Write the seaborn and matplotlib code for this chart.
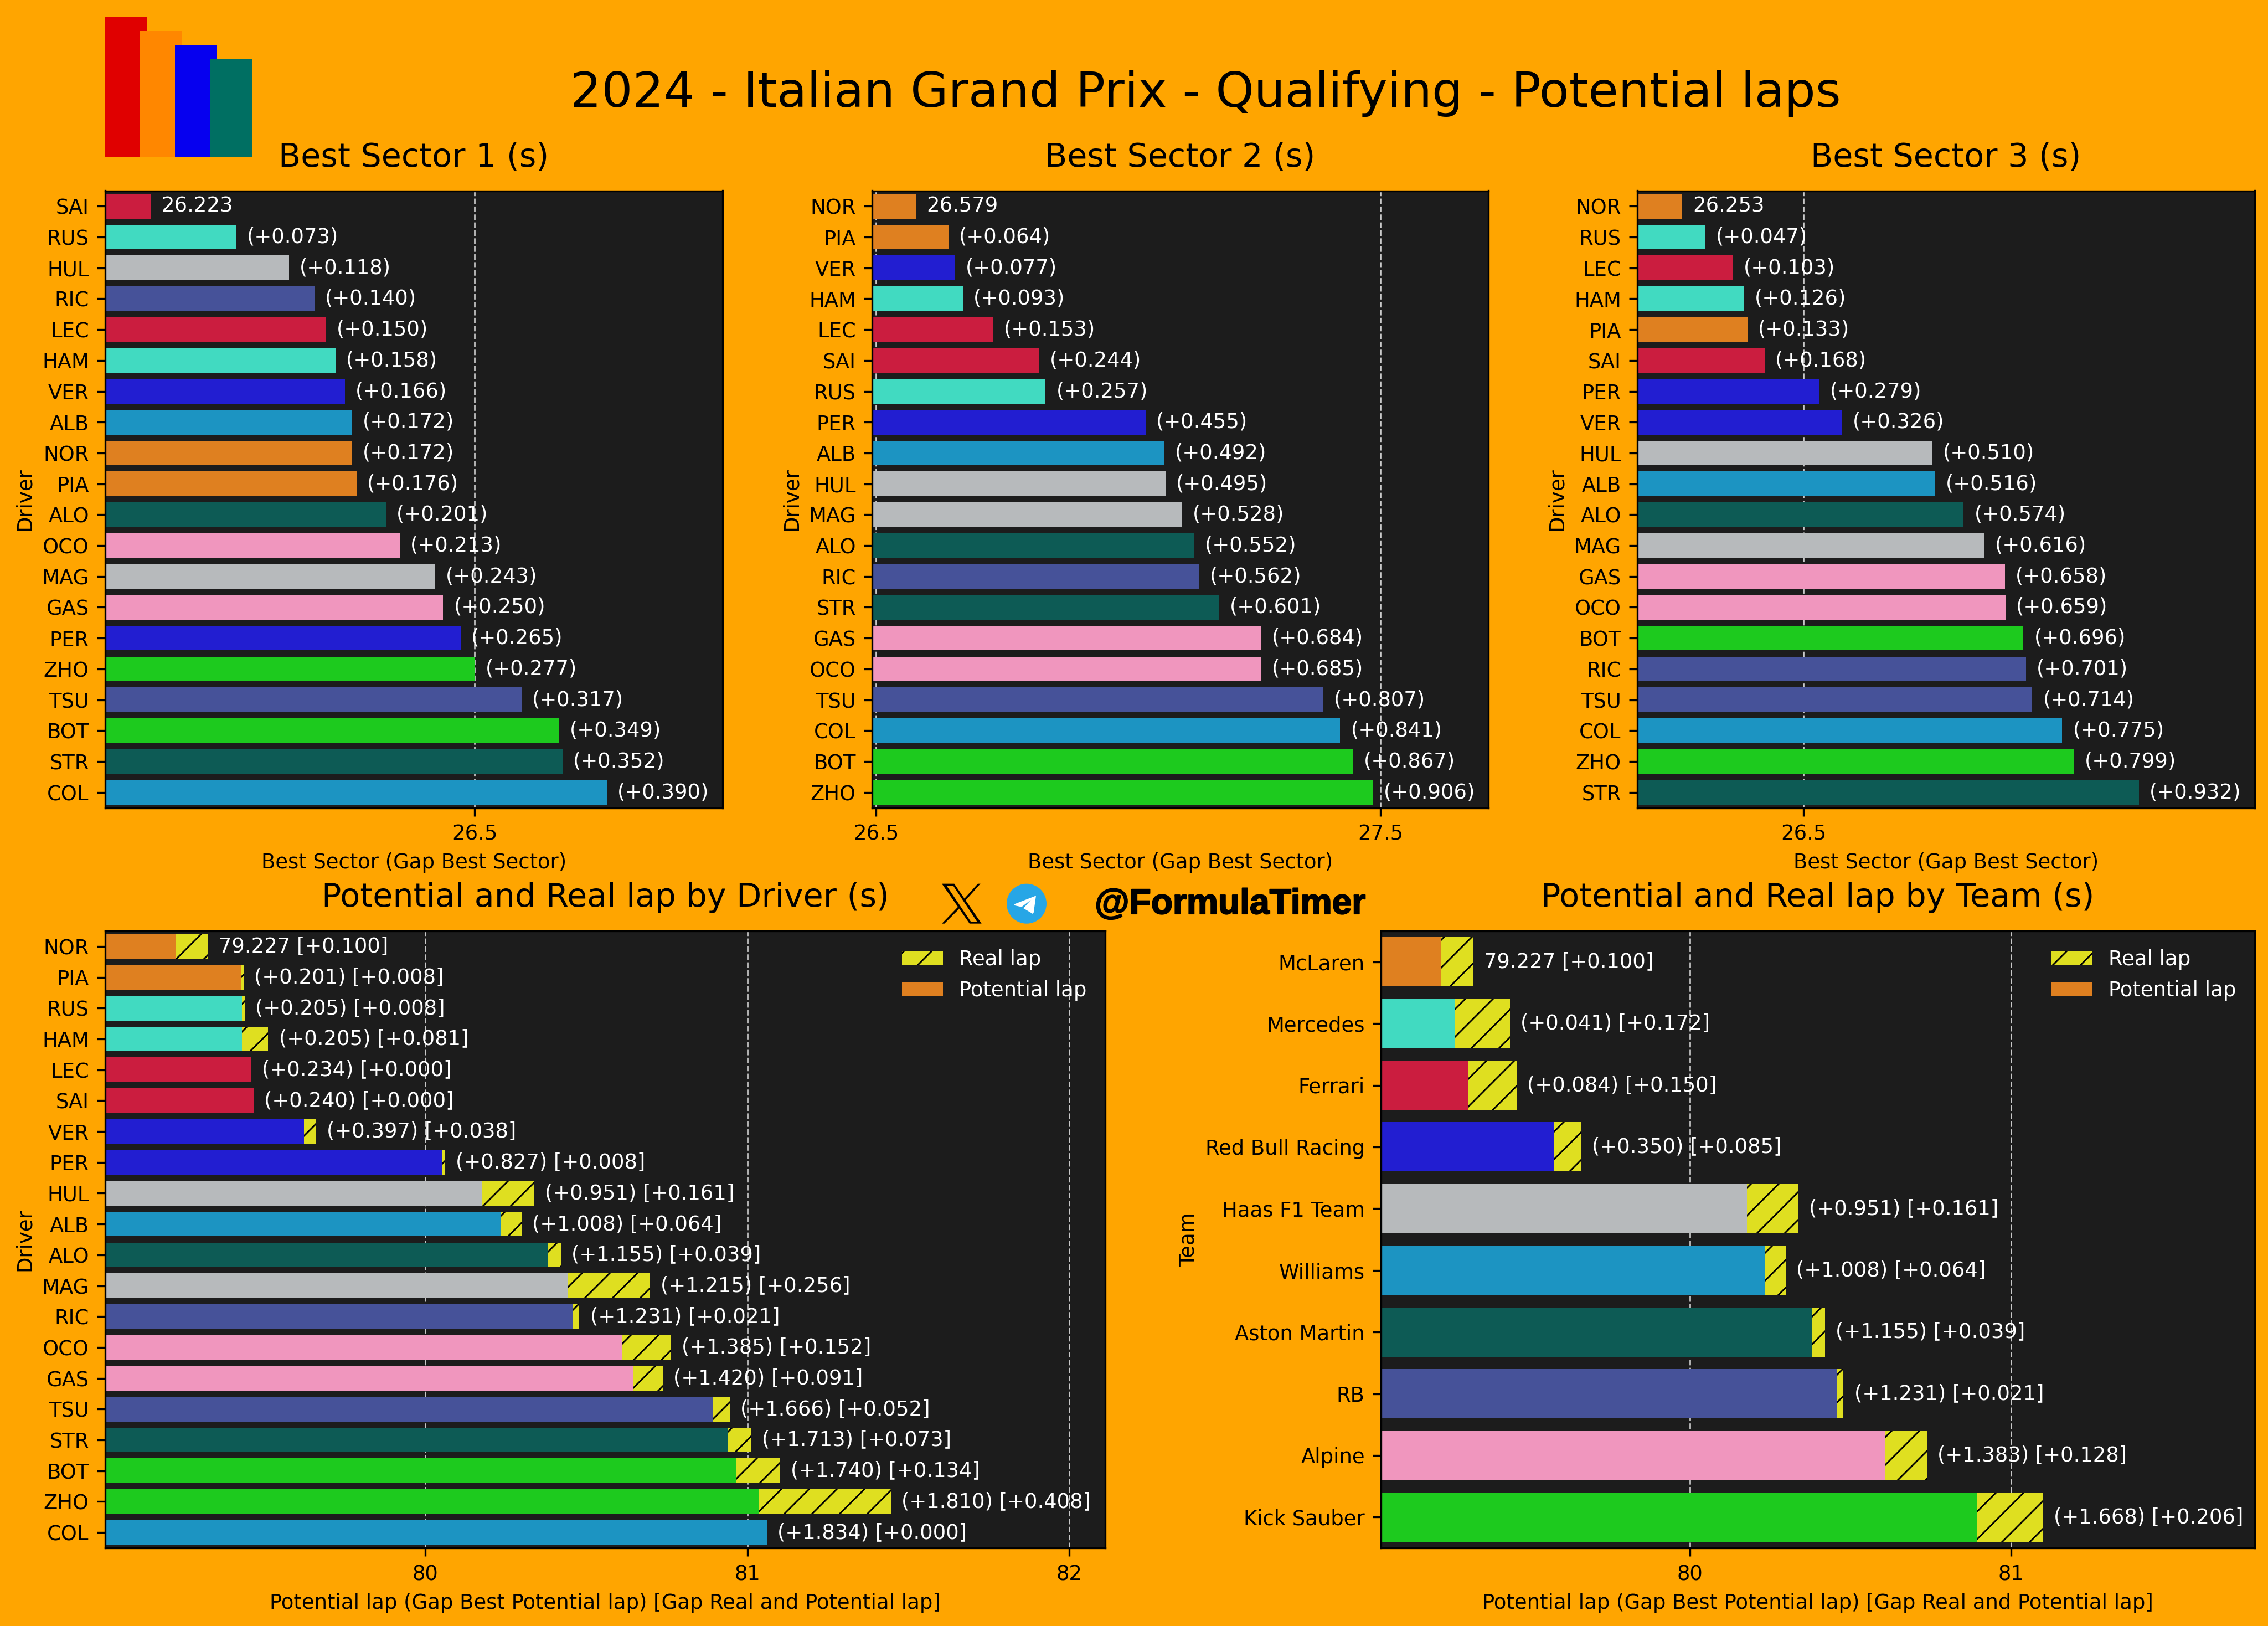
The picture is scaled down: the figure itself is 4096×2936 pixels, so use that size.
import matplotlib
matplotlib.use("Agg")
import matplotlib.pyplot as plt
import matplotlib.patheffects as pe
from matplotlib.patches import Patch, Polygon, Circle, Rectangle
import pandas as pd
import seaborn as sns

plt.rcParams["hatch.linewidth"] = 0.7

# team colours (seaborn desaturates them by default)
team_colors = {
    "McLaren": "#ff8000",
    "Mercedes": "#27f4d2",
    "Ferrari": "#e8002d",
    "Red Bull Racing": "#0600ef",
    "Haas F1 Team": "#b6babd",
    "Williams": "#00a0de",
    "Aston Martin": "#006860",
    "RB": "#3848a7",
    "Alpine": "#ff87bc",
    "Kick Sauber": "#00e701",
}
driver_team = {
    "NOR": "McLaren", "PIA": "McLaren",
    "RUS": "Mercedes", "HAM": "Mercedes",
    "LEC": "Ferrari", "SAI": "Ferrari",
    "VER": "Red Bull Racing", "PER": "Red Bull Racing",
    "HUL": "Haas F1 Team", "MAG": "Haas F1 Team",
    "ALB": "Williams", "COL": "Williams",
    "ALO": "Aston Martin", "STR": "Aston Martin",
    "RIC": "RB", "TSU": "RB",
    "OCO": "Alpine", "GAS": "Alpine",
    "BOT": "Kick Sauber", "ZHO": "Kick Sauber",
}

# sector tables
s1_best = 26.223
s1_drivers = ["SAI", "RUS", "HUL", "RIC", "LEC", "HAM", "VER", "ALB", "NOR", "PIA",
              "ALO", "OCO", "MAG", "GAS", "PER", "ZHO", "TSU", "BOT", "STR", "COL"]
s1_gaps = [0.000, 0.073, 0.118, 0.140, 0.150, 0.158, 0.166, 0.172, 0.172, 0.176,
           0.201, 0.213, 0.243, 0.250, 0.265, 0.277, 0.317, 0.349, 0.352, 0.390]

s2_best = 26.579
s2_drivers = ["NOR", "PIA", "VER", "HAM", "LEC", "SAI", "RUS", "PER", "ALB", "HUL",
              "MAG", "ALO", "RIC", "STR", "GAS", "OCO", "TSU", "COL", "BOT", "ZHO"]
s2_gaps = [0.000, 0.064, 0.077, 0.093, 0.153, 0.244, 0.257, 0.455, 0.492, 0.495,
           0.528, 0.552, 0.562, 0.601, 0.684, 0.685, 0.807, 0.841, 0.867, 0.906]

s3_best = 26.253
s3_drivers = ["NOR", "RUS", "LEC", "HAM", "PIA", "SAI", "PER", "VER", "HUL", "ALB",
              "ALO", "MAG", "GAS", "OCO", "BOT", "RIC", "TSU", "COL", "ZHO", "STR"]
s3_gaps = [0.000, 0.047, 0.103, 0.126, 0.133, 0.168, 0.279, 0.326, 0.510, 0.516,
           0.574, 0.616, 0.658, 0.659, 0.696, 0.701, 0.714, 0.775, 0.799, 0.932]

# potential laps
best_lap = 79.227
lap_drivers = ["NOR", "PIA", "RUS", "HAM", "LEC", "SAI", "VER", "PER", "HUL", "ALB",
               "ALO", "MAG", "RIC", "OCO", "GAS", "TSU", "STR", "BOT", "ZHO", "COL"]
lap_gaps = [0.000, 0.201, 0.205, 0.205, 0.234, 0.240, 0.397, 0.827, 0.951, 1.008,
            1.155, 1.215, 1.231, 1.385, 1.420, 1.666, 1.713, 1.740, 1.810, 1.834]
lap_real = [0.100, 0.008, 0.008, 0.081, 0.000, 0.000, 0.038, 0.008, 0.161, 0.064,
            0.039, 0.256, 0.021, 0.152, 0.091, 0.052, 0.073, 0.134, 0.408, 0.000]

teams = ["McLaren", "Mercedes", "Ferrari", "Red Bull Racing", "Haas F1 Team",
         "Williams", "Aston Martin", "RB", "Alpine", "Kick Sauber"]
team_gaps = [0.000, 0.041, 0.084, 0.350, 0.951, 1.008, 1.155, 1.231, 1.383, 1.668]
team_real = [0.100, 0.172, 0.150, 0.085, 0.161, 0.064, 0.039, 0.021, 0.128, 0.206]

BG = "#ffa500"
PANEL = "#1c1c1c"
W, H = 4096, 2936
SMALL = 8.85


def add_axes_px(fig, left, top, right, bottom):
    return fig.add_axes([left / W, 1 - bottom / H, (right - left) / W, (bottom - top) / H])


def style_axes(ax, title, xlabel, ylabel, ticks, xlim):
    ax.set_facecolor(PANEL)
    ax.set_axisbelow(True)
    ax.grid(axis="x", color="#c8c8c8", linestyle="--", linewidth=0.65)
    ax.set_xticks(ticks)
    ax.set_xticklabels([str(t) for t in ticks])
    ax.set_xlim(*xlim)
    ax.set_title(title, fontsize=14.1, pad=10.5)
    ax.set_xlabel(xlabel, fontsize=SMALL, labelpad=3.5)
    ax.set_ylabel(ylabel, fontsize=SMALL, labelpad=3)
    ax.tick_params(labelsize=SMALL)


def sector_panel(ax, drivers, gaps, best, title, ticks, xlim):
    df = pd.DataFrame({"Driver": drivers, "Gap": gaps})
    df["Time"] = best + df["Gap"]
    palette = [team_colors[driver_team[d]] for d in drivers]
    sns.barplot(data=df, y="Driver", x="Time", hue="Driver", palette=palette,
                legend=False, ax=ax)
    for cont, gap in zip(ax.containers, gaps):
        label = f"{best:.3f}" if gap == 0 else f"(+{gap:.3f})"
        ax.bar_label(cont, labels=[label], padding=4.6, color="white", fontsize=SMALL)
    style_axes(ax, title, "Best Sector (Gap Best Sector)", "Driver", ticks, xlim)


def lap_panel(ax, names, gaps, real, ycol, title, ticks, xlim):
    df = pd.DataFrame({ycol: names, "Gap": gaps, "Real": real})
    df["Potential"] = best_lap + df["Gap"]
    df["RealLap"] = df["Potential"] + df["Real"]
    sns.barplot(data=df, y=ycol, x="RealLap", color="yellow", hatch="//",
                edgecolor="black", linewidth=0, ax=ax)
    labels = []
    for g, r in zip(gaps, real):
        first = f"{best_lap:.3f}" if g == 0 else f"(+{g:.3f})"
        labels.append(f"{first} [+{r:.3f}]")
    ax.bar_label(ax.containers[0], labels=labels, padding=4.6, color="white", fontsize=SMALL)

    if ycol == "Driver":
        palette = [team_colors[driver_team[d]] for d in names]
    else:
        palette = [team_colors[t] for t in names]
    sns.barplot(data=df, y=ycol, x="Potential", hue=ycol, palette=palette,
                legend=False, ax=ax)
    style_axes(ax, title, "Potential lap (Gap Best Potential lap) [Gap Real and Potential lap]",
               ycol, ticks, xlim)

    real_patch = ax.containers[0][0]
    pot_patch = ax.containers[1][0]
    handles = [
        Patch(facecolor=real_patch.get_facecolor(), edgecolor="black", hatch="//", linewidth=0),
        Patch(facecolor=pot_patch.get_facecolor(), linewidth=0),
    ]
    ax.legend(handles, ["Real lap", "Potential lap"], loc="upper right", frameon=False,
              labelcolor="white", fontsize=SMALL)


def draw_decor(fig):
    # logo and social icons, positioned in pixels
    ov = fig.add_axes([0, 0, 1, 1], zorder=10)
    ov.set_xlim(0, W)
    ov.set_ylim(H, 0)
    ov.axis("off")
    logo = [(190, 265, 31, "#e00000"), (253, 329, 56, "#ff8700"),
            (316, 392, 82, "#0600ef"), (379, 455, 107, "#006f62")]
    for x0, x1, top, col in logo:
        ov.add_patch(Rectangle((x0, top), x1 - x0, 284 - top, facecolor=col, linewidth=0))

    def z5(points):
        return [(1690 + x / 3, 1585 + y / 3) for x, y in points]

    ov.add_patch(Polygon(z5([(33, 32), (100, 32), (248, 248), (183, 248)]), facecolor="black", linewidth=0))
    ov.add_patch(Polygon(z5([(58, 42), (94, 42), (224, 238), (190, 238)]), facecolor=BG, linewidth=0))
    ov.add_patch(Polygon(z5([(228, 32), (242, 32), (160, 124), (153, 115)]), facecolor="black", linewidth=0))
    ov.add_patch(Polygon(z5([(120, 158), (127, 168), (47, 248), (33, 248)]), facecolor="black", linewidth=0))
    ov.add_patch(Circle((1854, 1631.7), 36, facecolor="#27a6e6", linewidth=0))
    ov.add_patch(Polygon(z5([(543, 97), (425, 143), (428, 150), (465, 158), (515, 120),
                             (475, 165), (525, 195), (530, 190)]), facecolor="white", linewidth=0))
    handle = ov.text(1977, 1650, "@FormulaTimer", fontsize=15.4, fontweight="bold", color="black",
                     family="Liberation Sans", ha="left", va="baseline")
    handle.set_path_effects([pe.withStroke(linewidth=0.5, foreground="black")])


fig = plt.figure(figsize=(W / 300, H / 300), dpi=300, facecolor=BG)

ax1 = add_axes_px(fig, 190, 344.5, 1305, 1458.5)
ax2 = add_axes_px(fig, 1575, 344.5, 2688, 1458.5)
ax3 = add_axes_px(fig, 2957, 344.5, 4072, 1458.5)
ax4 = add_axes_px(fig, 190, 1681, 1996, 2795)
ax5 = add_axes_px(fig, 2494, 1681, 4072, 2795)

sector_panel(ax1, s1_drivers, s1_gaps, s1_best, "Best Sector 1 (s)", [26.5], (26.184, 26.712))
sector_panel(ax2, s2_drivers, s2_gaps, s2_best, "Best Sector 2 (s)", [26.5, 27.5], (26.492, 27.714))
sector_panel(ax3, s3_drivers, s3_gaps, s3_best, "Best Sector 3 (s)", [26.5], (26.161, 27.421))
lap_panel(ax4, lap_drivers, lap_gaps, lap_real, "Driver",
          "Potential and Real lap by Driver (s)", [80, 81, 82], (79.007, 82.111))
lap_panel(ax5, teams, team_gaps, team_real, "Team",
          "Potential and Real lap by Team (s)", [80, 81], (79.039, 81.759))

fig.text(2177 / W, 1 - 193 / H, "2024 - Italian Grand Prix - Qualifying - Potential laps",
         fontsize=21.2, ha="center", va="baseline", color="black")
draw_decor(fig)

fig.savefig("out.png", dpi=300, facecolor=BG)
